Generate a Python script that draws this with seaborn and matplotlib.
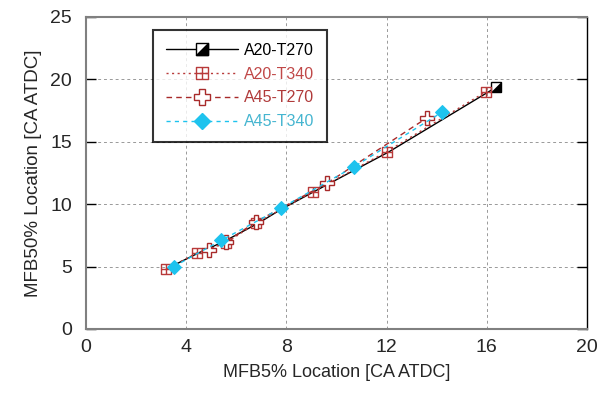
import numpy as np
import pandas as pd
import matplotlib
matplotlib.use("Agg")
import matplotlib.pyplot as plt
import matplotlib.path as mpath
from matplotlib.lines import Line2D
from matplotlib.legend_handler import HandlerTuple
import seaborn as sns

# ---- data ----
a20_t270_x = [3.3, 4.5, 5.5, 6.9, 7.8, 9.1, 12.1, 16.36]
a20_t270_y = [4.9, 6.1, 7.0, 8.5, 9.6, 11.0, 14.2, 19.35]

a20_t340_x = [3.2, 4.44, 5.6, 6.8, 9.08, 12.0, 15.96]
a20_t340_y = [4.8, 6.1, 6.9, 8.5, 11.0, 14.2, 19.0]

a45_t270_x = [4.92, 5.6, 6.8, 9.64, 13.6]
a45_t270_y = [6.3, 7.0, 8.6, 11.7, 16.9]

a45_t340_x = [3.5, 5.4, 7.8, 10.7, 14.2]
a45_t340_y = [5.0, 7.1, 9.7, 13.0, 17.35]

labels = ["A20-T270", "A20-T340", "A45-T270", "A45-T340"]
x_ticks = [0, 4, 8, 12, 16, 20]
y_ticks = [0, 5, 10, 15, 20, 25]

# ---- style ----
sns.set_style("white")
plt.rcParams["font.family"] = ["Liberation Sans", "DejaVu Sans"]

fig = plt.figure(figsize=(6.08, 3.94), dpi=100)
ax = fig.add_axes([0.1414, 0.165, 0.824, 0.792])

# custom markers
sq_plus = mpath.Path(
    [(-1, -1), (1, -1), (1, 1), (-1, 1), (-1, -1), (0, -1), (0, 1), (-1, 0), (1, 0)],
    [mpath.Path.MOVETO, mpath.Path.LINETO, mpath.Path.LINETO, mpath.Path.LINETO,
     mpath.Path.CLOSEPOLY, mpath.Path.MOVETO, mpath.Path.LINETO, mpath.Path.MOVETO,
     mpath.Path.LINETO])
tri = mpath.Path([(-1, -1), (1, -1), (1, 1), (-1, -1)],
                 [mpath.Path.MOVETO, mpath.Path.LINETO, mpath.Path.LINETO, mpath.Path.CLOSEPOLY])

black = "#000000"
red1 = "#B83A3A"
red2 = "#A82A2A"
cyan = "#1EC3EE"

df1 = pd.DataFrame({"x": a20_t270_x, "y": a20_t270_y})
df2 = pd.DataFrame({"x": a20_t340_x, "y": a20_t340_y})
df3 = pd.DataFrame({"x": a45_t270_x, "y": a45_t270_y})
df4 = pd.DataFrame({"x": a45_t340_x, "y": a45_t340_y})

last = [len(a20_t270_x) - 1]
sns.lineplot(data=df1, x="x", y="y", ax=ax, sort=False, color=black, lw=1.0,
             marker="s", markersize=7, markerfacecolor="white", markeredgecolor=black,
             markeredgewidth=1.0, markevery=last, zorder=3)
sns.lineplot(data=df1, x="x", y="y", ax=ax, sort=False, color=black, lw=0,
             marker=tri, markersize=7, markerfacecolor=black, markeredgecolor=black,
             markeredgewidth=0.5, markevery=last, zorder=3)
sns.lineplot(data=df2, x="x", y="y", ax=ax, sort=False, color=red1, lw=1.0,
             linestyle=(0, (1.5, 2.5)), marker=sq_plus, markersize=7.5,
             markerfacecolor="none", markeredgecolor=red1, markeredgewidth=1.0, zorder=4)
sns.lineplot(data=df3, x="x", y="y", ax=ax, sort=False, color=red2, lw=1.0,
             linestyle=(0, (4, 3)), marker="P", markersize=10,
             markerfacecolor="white", markeredgecolor=red2, markeredgewidth=1.0, zorder=5)
sns.lineplot(data=df4, x="x", y="y", ax=ax, sort=False, color=cyan, lw=1.0,
             linestyle=(0, (3, 3)), marker="D", markersize=7.5,
             markerfacecolor=cyan, markeredgecolor=cyan, zorder=6)

ax.set_xlim(0, 20)
ax.set_ylim(0, 25)
ax.set_xticks(x_ticks)
ax.set_yticks(y_ticks)
ax.set_xticklabels([str(t) for t in x_ticks], fontsize=14)
ax.set_yticklabels([str(t) for t in y_ticks], fontsize=14)
ax.tick_params(axis="x", length=0, pad=7)
ax.tick_params(axis="y", direction="in", length=7, color="black", width=1,
               right=True, left=True, pad=10)
ax.set_xlabel("MFB5% Location [CA ATDC]", fontsize=13, labelpad=6)
ax.set_ylabel("MFB50% Location [CA ATDC]", fontsize=13.5, labelpad=6)

ax.grid(True, color="#999999", linestyle=(0, (3, 3)), linewidth=0.7)
ax.set_axisbelow(True)

for s in ["left", "bottom", "top"]:
    ax.spines[s].set_color("#808080")
    ax.spines[s].set_linewidth(1.5)
ax.spines["right"].set_color("black")
ax.spines["right"].set_linewidth(1.0)

# legend
h1 = (Line2D([], [], color=black, lw=1.0, marker="s", markersize=8,
             markerfacecolor="white", markeredgecolor=black),
      Line2D([], [], color=black, lw=0, marker=tri, markersize=8,
             markerfacecolor=black, markeredgecolor=black))
h2 = Line2D([], [], color=red1, lw=1.0, linestyle=(0, (1.5, 2.5)), marker=sq_plus,
            markersize=8, markerfacecolor="none", markeredgecolor=red1)
h3 = Line2D([], [], color=red2, lw=1.0, linestyle=(0, (4, 3)), marker="P",
            markersize=11, markerfacecolor="white", markeredgecolor=red2)
h4 = Line2D([], [], color=cyan, lw=1.0, linestyle=(0, (3, 3)), marker="D",
            markersize=8, markerfacecolor=cyan, markeredgecolor=cyan)
leg = ax.legend([h1, h2, h3, h4], labels, loc="upper left",
                bbox_to_anchor=(0.134, 0.958), borderaxespad=0, fontsize=11.5,
                handlelength=4.5, handletextpad=0.4, labelspacing=0.55,
                fancybox=False, frameon=True, borderpad=0.8,
                handler_map={tuple: HandlerTuple(ndivide=1, pad=0)})
leg.get_frame().set_edgecolor("black")
leg.get_frame().set_linewidth(1.5)
for t, c in zip(leg.get_texts(), [black, "#C04848", "#B03A3A", "#45B5D0"]):
    t.set_color(c)

fig.savefig("out.png", dpi=100)
